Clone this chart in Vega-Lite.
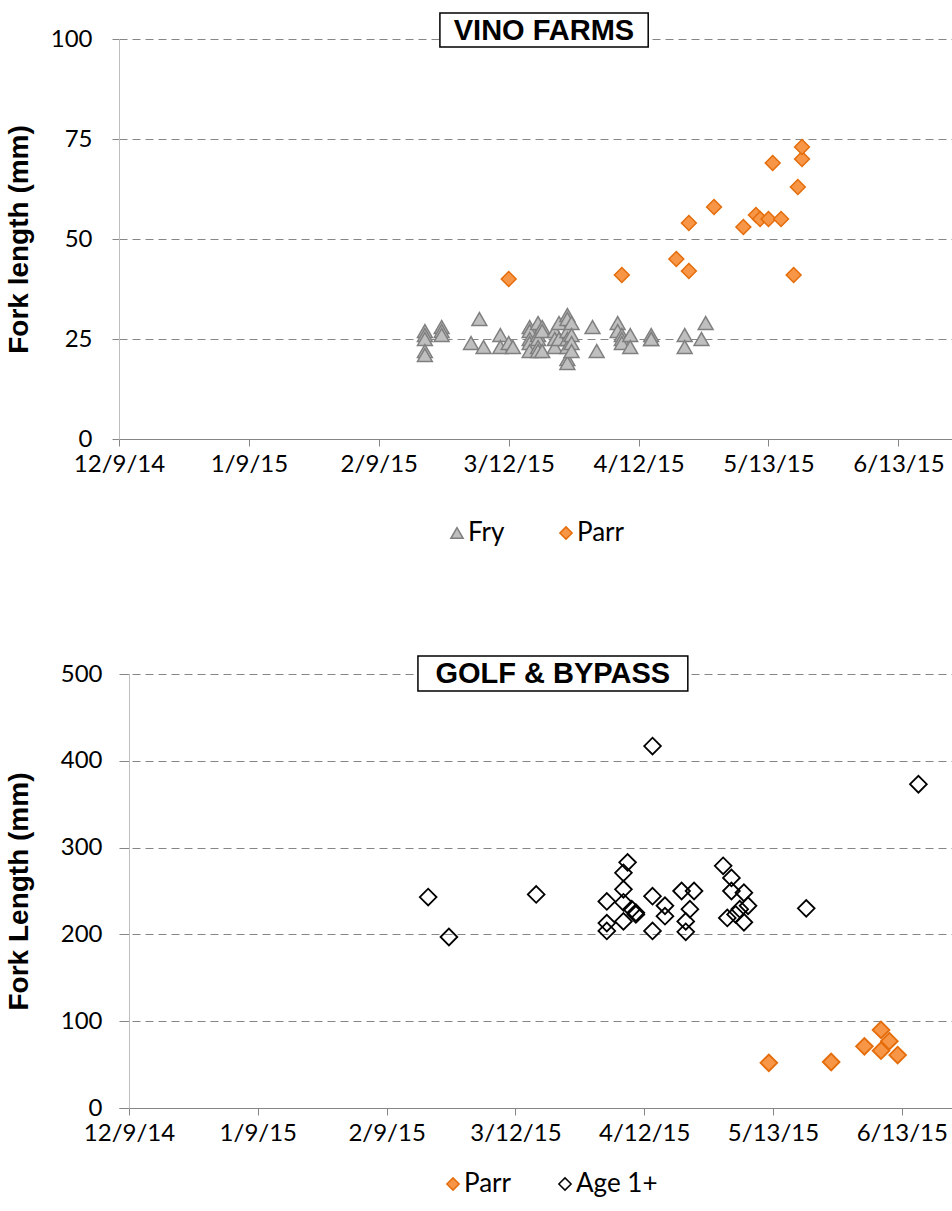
{
  "$schema": "https://vega.github.io/schema/vega-lite/v6.json",
  "background": "white",
  "padding": {"top": 12, "left": 5, "right": 0, "bottom": 5},
  "config": {
    "font": "Lato",
    "view": {"stroke": null},
    "axis": {
      "labelFont": "Lato",
      "labelFontSize": 24,
      "labelColor": "#000000",
      "titleFont": "Liberation Sans",
      "titleFontWeight": "bold",
      "titleFontSize": 28,
      "titleColor": "#000000",
      "domainColor": "#868686",
      "tickColor": "#868686",
      "tickSize": 7,
      "gridColor": "#868686",
      "gridDash": [8, 5],
      "gridWidth": 1.2
    },
    "legend": {
      "labelFont": "Lato",
      "labelFontSize": 26,
      "labelColor": "#000000",
      "orient": "none",
      "direction": "horizontal",
      "symbolSize": 150,
      "symbolStrokeWidth": 1.5,
      "labelOffset": -2,
      "padding": 0
    }
  },
  "datasets": {
    "vino": [
      {"date": "2015-02-20", "length": 27, "stage": "Fry"},
      {"date": "2015-02-20", "length": 26, "stage": "Fry"},
      {"date": "2015-02-20", "length": 25, "stage": "Fry"},
      {"date": "2015-02-20", "length": 22, "stage": "Fry"},
      {"date": "2015-02-20", "length": 21, "stage": "Fry"},
      {"date": "2015-02-24", "length": 28, "stage": "Fry"},
      {"date": "2015-02-24", "length": 27, "stage": "Fry"},
      {"date": "2015-02-24", "length": 26, "stage": "Fry"},
      {"date": "2015-03-03", "length": 24, "stage": "Fry"},
      {"date": "2015-03-05", "length": 30, "stage": "Fry"},
      {"date": "2015-03-06", "length": 23, "stage": "Fry"},
      {"date": "2015-03-10", "length": 26, "stage": "Fry"},
      {"date": "2015-03-10", "length": 23, "stage": "Fry"},
      {"date": "2015-03-12", "length": 24, "stage": "Fry"},
      {"date": "2015-03-13", "length": 23, "stage": "Fry"},
      {"date": "2015-03-17", "length": 28, "stage": "Fry"},
      {"date": "2015-03-17", "length": 27, "stage": "Fry"},
      {"date": "2015-03-17", "length": 25, "stage": "Fry"},
      {"date": "2015-03-17", "length": 24, "stage": "Fry"},
      {"date": "2015-03-17", "length": 22, "stage": "Fry"},
      {"date": "2015-03-19", "length": 29, "stage": "Fry"},
      {"date": "2015-03-19", "length": 26, "stage": "Fry"},
      {"date": "2015-03-19", "length": 25, "stage": "Fry"},
      {"date": "2015-03-19", "length": 23, "stage": "Fry"},
      {"date": "2015-03-19", "length": 22, "stage": "Fry"},
      {"date": "2015-03-20", "length": 28, "stage": "Fry"},
      {"date": "2015-03-20", "length": 27, "stage": "Fry"},
      {"date": "2015-03-20", "length": 22, "stage": "Fry"},
      {"date": "2015-03-23", "length": 27, "stage": "Fry"},
      {"date": "2015-03-23", "length": 25, "stage": "Fry"},
      {"date": "2015-03-23", "length": 23, "stage": "Fry"},
      {"date": "2015-03-24", "length": 29, "stage": "Fry"},
      {"date": "2015-03-24", "length": 25, "stage": "Fry"},
      {"date": "2015-03-26", "length": 31, "stage": "Fry"},
      {"date": "2015-03-26", "length": 30, "stage": "Fry"},
      {"date": "2015-03-26", "length": 27, "stage": "Fry"},
      {"date": "2015-03-26", "length": 25, "stage": "Fry"},
      {"date": "2015-03-26", "length": 23, "stage": "Fry"},
      {"date": "2015-03-26", "length": 20, "stage": "Fry"},
      {"date": "2015-03-26", "length": 19, "stage": "Fry"},
      {"date": "2015-03-27", "length": 29, "stage": "Fry"},
      {"date": "2015-03-27", "length": 26, "stage": "Fry"},
      {"date": "2015-03-27", "length": 24, "stage": "Fry"},
      {"date": "2015-03-27", "length": 22, "stage": "Fry"},
      {"date": "2015-04-01", "length": 28, "stage": "Fry"},
      {"date": "2015-04-02", "length": 22, "stage": "Fry"},
      {"date": "2015-04-07", "length": 29, "stage": "Fry"},
      {"date": "2015-04-07", "length": 27, "stage": "Fry"},
      {"date": "2015-04-08", "length": 26, "stage": "Fry"},
      {"date": "2015-04-08", "length": 25, "stage": "Fry"},
      {"date": "2015-04-08", "length": 24, "stage": "Fry"},
      {"date": "2015-04-10", "length": 26, "stage": "Fry"},
      {"date": "2015-04-10", "length": 23, "stage": "Fry"},
      {"date": "2015-04-15", "length": 26, "stage": "Fry"},
      {"date": "2015-04-15", "length": 25, "stage": "Fry"},
      {"date": "2015-04-15", "length": 25, "stage": "Fry"},
      {"date": "2015-04-23", "length": 26, "stage": "Fry"},
      {"date": "2015-04-23", "length": 23, "stage": "Fry"},
      {"date": "2015-04-27", "length": 25, "stage": "Fry"},
      {"date": "2015-04-28", "length": 29, "stage": "Fry"},
      {"date": "2015-03-12", "length": 40, "stage": "Parr"},
      {"date": "2015-04-08", "length": 41, "stage": "Parr"},
      {"date": "2015-04-21", "length": 45, "stage": "Parr"},
      {"date": "2015-04-24", "length": 54, "stage": "Parr"},
      {"date": "2015-04-24", "length": 42, "stage": "Parr"},
      {"date": "2015-04-30", "length": 58, "stage": "Parr"},
      {"date": "2015-05-07", "length": 53, "stage": "Parr"},
      {"date": "2015-05-10", "length": 56, "stage": "Parr"},
      {"date": "2015-05-11", "length": 55, "stage": "Parr"},
      {"date": "2015-05-13", "length": 55, "stage": "Parr"},
      {"date": "2015-05-14", "length": 69, "stage": "Parr"},
      {"date": "2015-05-16", "length": 55, "stage": "Parr"},
      {"date": "2015-05-19", "length": 41, "stage": "Parr"},
      {"date": "2015-05-20", "length": 63, "stage": "Parr"},
      {"date": "2015-05-21", "length": 70, "stage": "Parr"},
      {"date": "2015-05-21", "length": 73, "stage": "Parr"}
    ],
    "golf": [
      {"date": "2015-05-12", "length": 52, "stage": "Parr"},
      {"date": "2015-05-27", "length": 53, "stage": "Parr"},
      {"date": "2015-06-04", "length": 71, "stage": "Parr"},
      {"date": "2015-06-08", "length": 90, "stage": "Parr"},
      {"date": "2015-06-08", "length": 66, "stage": "Parr"},
      {"date": "2015-06-10", "length": 77, "stage": "Parr"},
      {"date": "2015-06-12", "length": 61, "stage": "Parr"},
      {"date": "2015-02-19", "length": 243, "stage": "Age 1+"},
      {"date": "2015-02-24", "length": 197, "stage": "Age 1+"},
      {"date": "2015-03-17", "length": 246, "stage": "Age 1+"},
      {"date": "2015-04-14", "length": 417, "stage": "Age 1+"},
      {"date": "2015-04-03", "length": 238, "stage": "Age 1+"},
      {"date": "2015-04-03", "length": 213, "stage": "Age 1+"},
      {"date": "2015-04-03", "length": 204, "stage": "Age 1+"},
      {"date": "2015-04-07", "length": 271, "stage": "Age 1+"},
      {"date": "2015-04-07", "length": 252, "stage": "Age 1+"},
      {"date": "2015-04-07", "length": 237, "stage": "Age 1+"},
      {"date": "2015-04-07", "length": 215, "stage": "Age 1+"},
      {"date": "2015-04-08", "length": 283, "stage": "Age 1+"},
      {"date": "2015-04-09", "length": 229, "stage": "Age 1+"},
      {"date": "2015-04-10", "length": 225, "stage": "Age 1+"},
      {"date": "2015-04-10", "length": 223, "stage": "Age 1+"},
      {"date": "2015-04-14", "length": 244, "stage": "Age 1+"},
      {"date": "2015-04-14", "length": 204, "stage": "Age 1+"},
      {"date": "2015-04-17", "length": 233, "stage": "Age 1+"},
      {"date": "2015-04-17", "length": 221, "stage": "Age 1+"},
      {"date": "2015-04-21", "length": 250, "stage": "Age 1+"},
      {"date": "2015-04-22", "length": 215, "stage": "Age 1+"},
      {"date": "2015-04-22", "length": 203, "stage": "Age 1+"},
      {"date": "2015-04-23", "length": 229, "stage": "Age 1+"},
      {"date": "2015-04-24", "length": 250, "stage": "Age 1+"},
      {"date": "2015-05-01", "length": 279, "stage": "Age 1+"},
      {"date": "2015-05-02", "length": 219, "stage": "Age 1+"},
      {"date": "2015-05-03", "length": 265, "stage": "Age 1+"},
      {"date": "2015-05-03", "length": 250, "stage": "Age 1+"},
      {"date": "2015-05-04", "length": 223, "stage": "Age 1+"},
      {"date": "2015-05-05", "length": 229, "stage": "Age 1+"},
      {"date": "2015-05-06", "length": 248, "stage": "Age 1+"},
      {"date": "2015-05-06", "length": 214, "stage": "Age 1+"},
      {"date": "2015-05-07", "length": 233, "stage": "Age 1+"},
      {"date": "2015-05-21", "length": 230, "stage": "Age 1+"},
      {"date": "2015-06-17", "length": 373, "stage": "Age 1+"}
    ]
  },
  "spacing": 109,
  "vconcat": [
    {
      "width": 833,
      "height": 400,
      "layer": [
        {
          "data": {"name": "vino"},
          "mark": {"type": "point", "filled": true, "size": 220, "strokeWidth": 1.5, "opacity": 1},
          "encoding": {
            "x": {
              "field": "date", "type": "temporal",
              "scale": {"type": "utc", "domain": [
                {"year": 2014, "month": 12, "date": 9, "utc": true},
                {"year": 2015, "month": 6, "date": 25, "hours": 19, "utc": true}
              ]},
              "axis": {
                "title": null, "grid": false, "format": "%-m/%-d/%y", "labelPadding": 6,
                "labelFlush": false, "labelOverlap": false,
                "values": [
                  {"year": 2014, "month": 12, "date": 9, "utc": true},
                  {"year": 2015, "month": 1, "date": 9, "utc": true},
                  {"year": 2015, "month": 2, "date": 9, "utc": true},
                  {"year": 2015, "month": 3, "date": 12, "utc": true},
                  {"year": 2015, "month": 4, "date": 12, "utc": true},
                  {"year": 2015, "month": 5, "date": 13, "utc": true},
                  {"year": 2015, "month": 6, "date": 13, "utc": true}
                ]
              }
            },
            "y": {
              "field": "length", "type": "quantitative",
              "scale": {"domain": [0, 100], "nice": false},
              "axis": {"title": "Fork length (mm)", "values": [0, 25, 50, 75, 100], "domainColor": "#BFBFBF", "labelPadding": 20, "titlePadding": 17}
            },
            "shape": {"field": "stage", "type": "nominal", "title": null,
              "scale": {"domain": ["Fry", "Parr"], "range": ["triangle-up", "diamond"]},
              "legend": {"legendX": 325, "legendY": 481, "columnPadding": 48}},
            "fill": {"field": "stage", "type": "nominal", "title": null,
              "scale": {"domain": ["Fry", "Parr"], "range": ["#BFBFBF", "#F79646"]},
              "legend": {"legendX": 325, "legendY": 481, "columnPadding": 48}},
            "stroke": {"field": "stage", "type": "nominal", "title": null,
              "scale": {"domain": ["Fry", "Parr"], "range": ["#7F7F7F", "#E46C0A"]},
              "legend": {"legendX": 325, "legendY": 481, "columnPadding": 48}}
          }
        },
        {
          "data": {"values": [{"label": "VINO FARMS"}]},
          "mark": {"type": "rect", "fill": "white", "stroke": "black", "strokeWidth": 1.5},
          "encoding": {
            "x": {"datum": {"year": 2015, "month": 2, "date": 23, "hours": 14, "utc": true}, "type": "temporal"},
            "x2": {"datum": {"year": 2015, "month": 4, "date": 14, "hours": 7, "utc": true}},
            "y": {"datum": 106.5, "type": "quantitative"},
            "y2": {"datum": 98}
          }
        },
        {
          "data": {"values": [{"label": "VINO FARMS"}]},
          "mark": {"type": "text", "font": "Liberation Sans", "fontWeight": "bold", "fontSize": 29, "baseline": "middle", "align": "center"},
          "encoding": {
            "x": {"datum": {"year": 2015, "month": 3, "date": 20, "hours": 10, "utc": true}, "type": "temporal"},
            "y": {"datum": 102.1, "type": "quantitative"},
            "text": {"field": "label"}
          }
        }
      ]
    },
    {
      "width": 833,
      "height": 434,
      "layer": [
        {
          "data": {"name": "golf"},
          "mark": {"type": "point", "filled": true, "size": 280, "strokeWidth": 1.8, "opacity": 1},
          "encoding": {
            "x": {
              "field": "date", "type": "temporal",
              "scale": {"type": "utc", "domain": [
                {"year": 2014, "month": 12, "date": 6, "hours": 14, "minutes": 10, "utc": true},
                {"year": 2015, "month": 6, "date": 25, "hours": 2, "utc": true}
              ]},
              "axis": {
                "title": null, "grid": false, "format": "%-m/%-d/%y", "labelPadding": 6,
                "labelFlush": false, "labelOverlap": false,
                "values": [
                  {"year": 2014, "month": 12, "date": 9, "utc": true},
                  {"year": 2015, "month": 1, "date": 9, "utc": true},
                  {"year": 2015, "month": 2, "date": 9, "utc": true},
                  {"year": 2015, "month": 3, "date": 12, "utc": true},
                  {"year": 2015, "month": 4, "date": 12, "utc": true},
                  {"year": 2015, "month": 5, "date": 13, "utc": true},
                  {"year": 2015, "month": 6, "date": 13, "utc": true}
                ]
              }
            },
            "y": {
              "field": "length", "type": "quantitative",
              "scale": {"domain": [0, 500], "nice": false},
              "axis": {"title": "Fork Length (mm)", "values": [0, 100, 200, 300, 400, 500], "domainColor": "#BFBFBF", "labelPadding": 20, "titlePadding": 27, "offset": -10}
            },
            "shape": {"field": "stage", "type": "nominal", "title": null,
              "scale": {"domain": ["Parr", "Age 1+"], "range": ["diamond", "diamond"]},
              "legend": {"legendX": 321, "legendY": 497, "columnPadding": 40}},
            "fill": {"field": "stage", "type": "nominal", "title": null,
              "scale": {"domain": ["Parr", "Age 1+"], "range": ["#F79646", "transparent"]},
              "legend": {"legendX": 321, "legendY": 497, "columnPadding": 40}},
            "stroke": {"field": "stage", "type": "nominal", "title": null,
              "scale": {"domain": ["Parr", "Age 1+"], "range": ["#E46C0A", "#000000"]},
              "legend": {"legendX": 321, "legendY": 497, "columnPadding": 40}}
          }
        },
        {
          "data": {"values": [{"label": "GOLF & BYPASS"}]},
          "mark": {"type": "rect", "fill": "white", "stroke": "black", "strokeWidth": 1.5},
          "encoding": {
            "x": {"datum": {"year": 2015, "month": 2, "date": 16, "hours": 13, "utc": true}, "type": "temporal"},
            "x2": {"datum": {"year": 2015, "month": 4, "date": 22, "hours": 12, "utc": true}},
            "y": {"datum": 520.7, "type": "quantitative"},
            "y2": {"datum": 480.4}
          }
        },
        {
          "data": {"values": [{"label": "GOLF & BYPASS"}]},
          "mark": {"type": "text", "font": "Liberation Sans", "fontWeight": "bold", "fontSize": 29, "baseline": "middle", "align": "center"},
          "encoding": {
            "x": {"datum": {"year": 2015, "month": 3, "date": 21, "utc": true}, "type": "temporal"},
            "y": {"datum": 500.5, "type": "quantitative"},
            "text": {"field": "label"}
          }
        }
      ]
    }
  ],
  "resolve": {
    "scale": {"shape": "independent", "fill": "independent", "stroke": "independent"},
    "legend": {"shape": "independent", "fill": "independent", "stroke": "independent"}
  }
}
